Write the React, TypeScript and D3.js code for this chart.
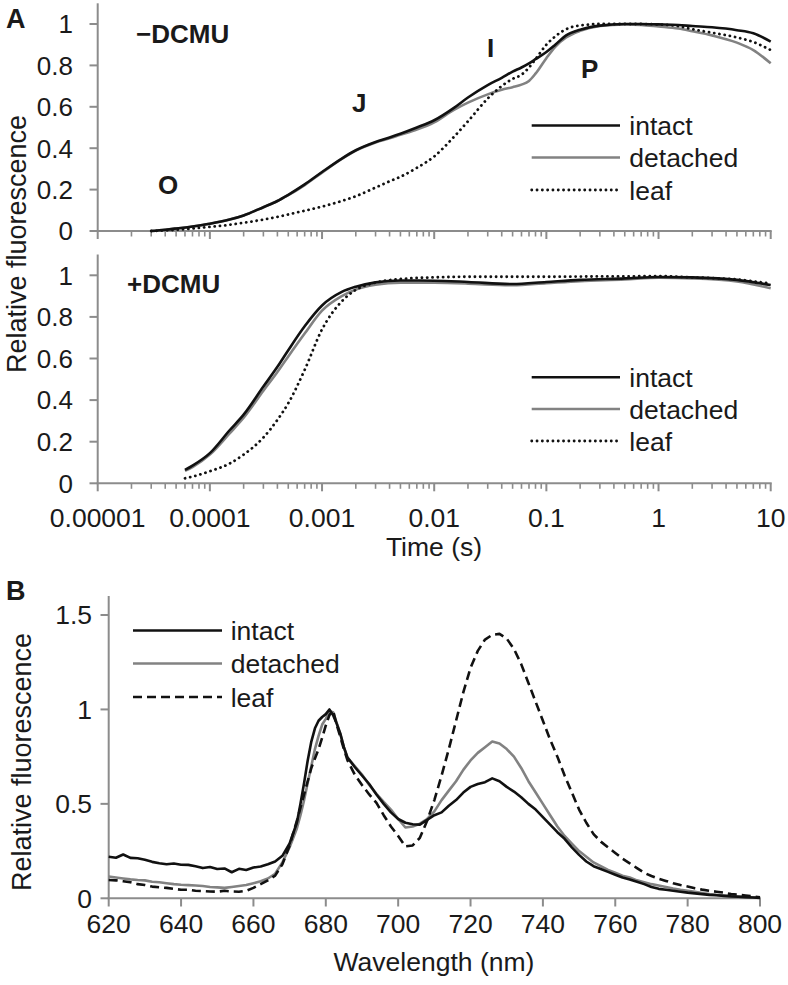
import React from 'react';
import * as d3 from 'd3';

// ---------- Panel A data (OJIP transients) ----------
const TIME_TOP = [3e-5, 4e-5, 5e-5, 7e-5, 1e-4, 1.5e-4, 2e-4, 3e-4, 4e-4, 5e-4, 7e-4, 1e-3, 1.5e-3, 2e-3, 3e-3, 4e-3, 5e-3, 7e-3, 0.01, 0.015, 0.02, 0.03, 0.04, 0.05, 0.06, 0.07, 0.08, 0.1, 0.12, 0.15, 0.2, 0.3, 0.5, 0.7, 1, 1.5, 2, 3, 5, 7, 10];
const INTACT_TOP = [0, 0.006, 0.012, 0.022, 0.035, 0.055, 0.075, 0.115, 0.145, 0.175, 0.225, 0.285, 0.35, 0.39, 0.43, 0.452, 0.47, 0.5, 0.535, 0.595, 0.645, 0.705, 0.74, 0.77, 0.79, 0.81, 0.83, 0.865, 0.9, 0.945, 0.972, 0.992, 1.0, 1.0, 0.998, 0.995, 0.99, 0.984, 0.97, 0.955, 0.915];
const DETACHED_TOP = [0, 0.006, 0.012, 0.022, 0.035, 0.055, 0.075, 0.115, 0.145, 0.173, 0.222, 0.282, 0.348, 0.388, 0.428, 0.448, 0.465, 0.49, 0.525, 0.585, 0.62, 0.66, 0.682, 0.695, 0.707, 0.725, 0.76, 0.835, 0.89, 0.935, 0.967, 0.99, 0.998, 0.996, 0.988, 0.978, 0.965, 0.945, 0.91, 0.874, 0.81];
const LEAF_TOP = [0, 0.003, 0.006, 0.012, 0.02, 0.03, 0.04, 0.055, 0.068, 0.08, 0.098, 0.118, 0.145, 0.168, 0.21, 0.24, 0.262, 0.305, 0.36, 0.455, 0.53, 0.64, 0.7, 0.735, 0.755, 0.79, 0.83, 0.9, 0.94, 0.975, 0.993, 1.0, 1.0, 1.0, 0.998, 0.99, 0.975, 0.958, 0.935, 0.913, 0.874];

const TIME_MID = [6e-5, 7e-5, 1e-4, 1.5e-4, 2e-4, 3e-4, 4e-4, 5e-4, 7e-4, 1e-3, 1.5e-3, 2e-3, 3e-3, 5e-3, 0.01, 0.02, 0.05, 0.1, 0.2, 0.5, 1, 2, 5, 10];
const INTACT_MID = [0.064, 0.085, 0.145, 0.255, 0.33, 0.465, 0.56, 0.64, 0.755, 0.855, 0.92, 0.945, 0.966, 0.975, 0.974, 0.968, 0.958, 0.968, 0.978, 0.985, 0.992, 0.99, 0.978, 0.953];
const DETACHED_MID = [0.06, 0.078, 0.138, 0.24, 0.315, 0.445, 0.535, 0.61, 0.72, 0.83, 0.9, 0.932, 0.955, 0.965, 0.964, 0.96, 0.952, 0.962, 0.972, 0.98, 0.988, 0.985, 0.97, 0.938];
const LEAF_MID = [0.024, 0.032, 0.058, 0.095, 0.138, 0.22, 0.305, 0.385, 0.545, 0.74, 0.875, 0.93, 0.965, 0.982, 0.99, 0.993, 0.993, 0.993, 0.994, 0.995, 0.996, 0.99, 0.98, 0.96];

const TIME_TICK_LABELS = ['0.00001', '0.0001', '0.001', '0.01', '0.1', '1', '10'];
const A_Y_TICKS = [0, 0.2, 0.4, 0.6, 0.8, 1];

// ---------- Panel B data (77 K emission spectra) ----------
const WAVELENGTH = [620, 622, 624, 626, 628, 630, 632, 634, 636, 638, 640, 642, 644, 646, 648, 650, 652, 654, 656, 658, 660, 662, 664, 666, 668, 670, 672, 673, 674, 675, 676, 677, 678, 679, 680, 681, 682, 683, 684, 685, 686, 688, 690, 692, 694, 696, 698, 700, 702, 704, 706, 708, 710, 712, 714, 716, 718, 720, 722, 724, 726, 728, 730, 732, 734, 736, 738, 740, 742, 744, 746, 748, 750, 752, 754, 756, 758, 760, 762, 764, 766, 768, 770, 772, 774, 776, 778, 780, 782, 784, 786, 788, 790, 792, 794, 796, 798, 800];
const INTACT_SPEC = [0.22, 0.215, 0.232, 0.214, 0.212, 0.204, 0.193, 0.186, 0.18, 0.184, 0.178, 0.177, 0.17, 0.16, 0.166, 0.155, 0.158, 0.138, 0.156, 0.15, 0.163, 0.168, 0.18, 0.195, 0.225, 0.29, 0.4, 0.5, 0.61, 0.73, 0.83, 0.9, 0.94, 0.96, 0.975, 1.0, 0.97, 0.925, 0.873, 0.8, 0.745, 0.695, 0.65, 0.605, 0.55, 0.5, 0.455, 0.42, 0.4, 0.392, 0.39, 0.415, 0.44, 0.455, 0.49, 0.52, 0.56, 0.59, 0.605, 0.615, 0.635, 0.62, 0.59, 0.565, 0.535, 0.5, 0.47, 0.43, 0.39, 0.35, 0.315, 0.27, 0.23, 0.195, 0.17, 0.155, 0.14, 0.125, 0.11, 0.1, 0.088, 0.075, 0.06, 0.05, 0.045, 0.04, 0.035, 0.03, 0.026, 0.022, 0.018, 0.016, 0.013, 0.01, 0.008, 0.006, 0.004, 0.002];
const DETACHED_SPEC = [0.115, 0.11, 0.105, 0.1, 0.097, 0.095, 0.088, 0.085, 0.08, 0.075, 0.072, 0.07, 0.068, 0.065, 0.06, 0.058, 0.055, 0.06, 0.065, 0.07, 0.08, 0.09, 0.105, 0.13, 0.19, 0.27, 0.37, 0.44, 0.52, 0.61, 0.7, 0.79, 0.86, 0.92, 0.95, 0.99, 0.985, 0.93, 0.87, 0.8, 0.745, 0.7, 0.655, 0.6, 0.553, 0.51, 0.47, 0.42, 0.375, 0.38, 0.395, 0.42, 0.46, 0.52, 0.57, 0.62, 0.68, 0.73, 0.77, 0.8, 0.83, 0.82, 0.79, 0.75, 0.69, 0.62, 0.56, 0.5, 0.44, 0.38, 0.33, 0.29, 0.25, 0.22, 0.19, 0.17, 0.15, 0.135, 0.12, 0.11, 0.095, 0.085, 0.075, 0.068, 0.06, 0.052, 0.045, 0.04, 0.034, 0.028, 0.022, 0.018, 0.015, 0.012, 0.01, 0.007, 0.005, 0.003];
const LEAF_SPEC = [0.097, 0.095, 0.09, 0.085, 0.075, 0.07, 0.062, 0.058, 0.055, 0.05, 0.045, 0.045, 0.04, 0.038, 0.036, 0.035, 0.04, 0.036, 0.035, 0.04, 0.055, 0.075, 0.095, 0.12, 0.18, 0.28, 0.41, 0.48, 0.55, 0.62, 0.69, 0.74, 0.79, 0.85, 0.915, 0.97, 0.995, 0.92, 0.855, 0.79, 0.73, 0.655, 0.6, 0.55, 0.505, 0.44, 0.38, 0.33, 0.275, 0.28, 0.32, 0.41, 0.52, 0.65, 0.79, 0.94, 1.09, 1.22, 1.31, 1.37, 1.395, 1.4, 1.375, 1.32, 1.24, 1.14, 1.04, 0.94, 0.84, 0.75, 0.65, 0.56, 0.47, 0.4, 0.34, 0.3, 0.27, 0.24, 0.21, 0.185, 0.16, 0.135, 0.118, 0.103, 0.092, 0.08, 0.07, 0.062, 0.053, 0.046, 0.04, 0.035, 0.03, 0.022, 0.02, 0.015, 0.01, 0.005];
const B_X_TICKS = [620, 640, 660, 680, 700, 720, 740, 760, 780, 800];
const B_Y_TICKS = [0, 0.5, 1, 1.5];

const LEGEND_NAMES = ['intact', 'detached', 'leaf'];

const FONT = '"Liberation Sans", Arial, Helvetica, sans-serif';
const AXIS = '#8c8c8c';
const INK = '#1a1a1a';
const BLACK = '#111111';
const GRAY = '#828282';
const LW = 2.6;

function styleFor(i: number, dashed: boolean) {
  if (i === 0) return { stroke: BLACK, strokeWidth: LW, strokeDasharray: undefined as string | undefined, strokeLinecap: 'butt' as const };
  if (i === 1) return { stroke: GRAY, strokeWidth: LW, strokeDasharray: undefined as string | undefined, strokeLinecap: 'butt' as const };
  return dashed
    ? { stroke: BLACK, strokeWidth: LW, strokeDasharray: '9 5', strokeLinecap: 'butt' as const }
    : { stroke: BLACK, strokeWidth: 2.8, strokeDasharray: '0.1 5.2', strokeLinecap: 'round' as const };
}

export default function App() {
  const xA = d3.scaleLog().domain([1e-5, 10]).range([97.7, 770.7]);
  const yTop = d3.scaleLinear().domain([0, 1.1]).range([231, 3.3]);
  const yMid = d3.scaleLinear().domain([0, 1.1]).range([483.3, 254.5]);
  const xB = d3.scaleLinear().domain([620, 800]).range([108.7, 760]);
  const yB = d3.scaleLinear().domain([0, 1.6]).range([898.3, 596.1]);

  const logTicks: { v: number; major: boolean }[] = [];
  for (let e = -5; e <= 1; e++) {
    for (let m = 1; m <= 9; m++) {
      const v = m * Math.pow(10, e);
      if (v > 10.0001) break;
      logTicks.push({ v, major: m === 1 });
    }
  }

  const lineA = (times: number[], vals: number[], y: d3.ScaleLinear<number, number>) =>
    d3.line<number>().x((_, i) => xA(times[i])).y((d) => y(d)).curve(d3.curveMonotoneX)(vals) || '';
  const lineB = (vals: number[]) =>
    d3.line<number>().x((_, i) => xB(WAVELENGTH[i])).y((d) => yB(d))(vals) || '';

  const panelA = (y: d3.ScaleLinear<number, number>, series: number[][], times: number[], key: string) => {
    const [y0, yTopPx] = y.range();
    return (
      <g key={key}>
        <line x1={97.7} x2={97.7} y1={yTopPx} y2={y0} stroke={AXIS} strokeWidth={2} />
        {A_Y_TICKS.map((t) => (
          <g key={t}>
            <line x1={89.5} x2={97.7} y1={y(t)} y2={y(t)} stroke={AXIS} strokeWidth={2} />
            <text x={73} y={y(t) + 9.3} textAnchor="end" fontFamily={FONT} fontSize={26} fill={INK}>
              {String(t)}
            </text>
          </g>
        ))}
        <line x1={96.7} x2={771.7} y1={y0} y2={y0} stroke={AXIS} strokeWidth={2} />
        {logTicks.map((t, i) => (
          <line key={i} x1={xA(t.v)} x2={xA(t.v)} y1={y0} y2={y0 + (t.major ? 8 : 5.5)} stroke={AXIS} strokeWidth={t.major ? 2 : 1.6} />
        ))}
        {series
          .map((vals, i) => ({ vals, i }))
          .sort((a, b) => (a.i === 1 ? -1 : b.i === 1 ? 1 : 0))
          .map(({ vals, i }) => {
            const s = styleFor(i, false);
            return (
              <path key={i} d={lineA(times, vals, y)} fill="none" stroke={s.stroke} strokeWidth={s.strokeWidth}
                strokeDasharray={s.strokeDasharray} strokeLinecap={s.strokeLinecap} strokeLinejoin="round" />
            );
          })}
      </g>
    );
  };

  const legend = (x1: number, x2: number, tx: number, baselines: number[], dashed: boolean, key: string) => (
    <g key={key}>
      {LEGEND_NAMES.map((name, i) => {
        const s = styleFor(i, dashed);
        const ly = baselines[i] - 9.5;
        return (
          <g key={name}>
            <line x1={x1} x2={x2} y1={ly} y2={ly} stroke={s.stroke} strokeWidth={s.strokeWidth}
              strokeDasharray={s.strokeDasharray} strokeLinecap={s.strokeLinecap} />
            <text x={tx} y={baselines[i]} fontFamily={FONT} fontSize={26.5} fill={INK}>{name}</text>
          </g>
        );
      })}
    </g>
  );

  const boldText = (t: string, x: number, y: number, key: string, size = 26) => (
    <text key={key} x={x} y={y} fontFamily={FONT} fontWeight="bold" fontSize={size} fill={INK}>{t}</text>
  );

  return (
    <svg width={788} height={985} viewBox="0 0 788 985" style={{ position: 'absolute', left: 0, top: 0, background: '#fff' }}>
      <rect x={0} y={0} width={788} height={985} fill="#fff" />

      {panelA(yTop, [INTACT_TOP, DETACHED_TOP, LEAF_TOP], TIME_TOP, 'top')}
      {panelA(yMid, [INTACT_MID, DETACHED_MID, LEAF_MID], TIME_MID, 'mid')}

      {TIME_TICK_LABELS.map((lab) => (
        <text key={lab} x={xA(+lab)} y={527} textAnchor="middle" fontFamily={FONT} fontSize={26.5} fill={INK}>{lab}</text>
      ))}
      <text x={434} y={556} textAnchor="middle" fontFamily={FONT} fontSize={26.5} fill={INK}>Time (s)</text>
      <text transform="translate(26,244) rotate(-90)" textAnchor="middle" fontFamily={FONT} fontSize={27} fill={INK}>Relative fluorescence</text>

      {boldText('A', 6, 28, 'A', 27)}
      {boldText('\u2212DCMU', 136, 43, 'mdcmu')}
      {boldText('+DCMU', 127, 293, 'pdcmu')}
      {boldText('O', 158, 194, 'O')}
      {boldText('J', 352, 112, 'J')}
      {boldText('I', 487, 56.5, 'I')}
      {boldText('P', 581, 78, 'P')}

      {legend(531.7, 620, 629.3, [135, 167, 199.5], false, 'legTop')}
      {legend(531.7, 620, 629.3, [386.7, 418.5, 450.5], false, 'legMid')}

      <g>
        <line x1={108.7} x2={108.7} y1={596} y2={898.3} stroke={AXIS} strokeWidth={2} />
        {B_Y_TICKS.map((t) => (
          <g key={t}>
            <line x1={100.5} x2={108.7} y1={yB(t)} y2={yB(t)} stroke={AXIS} strokeWidth={2} />
            <text x={92} y={yB(t) + 9.3} textAnchor="end" fontFamily={FONT} fontSize={26.5} fill={INK}>{String(t)}</text>
          </g>
        ))}
        <line x1={107.7} x2={761} y1={898.3} y2={898.3} stroke={AXIS} strokeWidth={2} />
        {B_X_TICKS.map((t) => (
          <g key={t}>
            <line x1={xB(t)} x2={xB(t)} y1={898.3} y2={906.5} stroke={AXIS} strokeWidth={2} />
            <text x={xB(t)} y={933} textAnchor="middle" fontFamily={FONT} fontSize={26.5} fill={INK}>{String(t)}</text>
          </g>
        ))}
        <text x={434} y={971} textAnchor="middle" fontFamily={FONT} fontSize={26.5} fill={INK}>Wavelength (nm)</text>
        <text transform="translate(31,762) rotate(-90)" textAnchor="middle" fontFamily={FONT} fontSize={27} fill={INK}>Relative fluorescence</text>
        {boldText('B', 6, 600, 'B', 27)}

        {[DETACHED_SPEC, INTACT_SPEC, LEAF_SPEC].map((vals, j) => {
          const i = j === 0 ? 1 : j === 1 ? 0 : 2;
          const s = styleFor(i, true);
          return (
            <path key={j} d={lineB(vals)} fill="none" stroke={s.stroke} strokeWidth={s.strokeWidth}
              strokeDasharray={s.strokeDasharray} strokeLinecap={s.strokeLinecap} strokeLinejoin="round" />
          );
        })}
        {legend(133, 222, 230.7, [640, 673, 706.5], true, 'legB')}
      </g>
    </svg>
  );
}
